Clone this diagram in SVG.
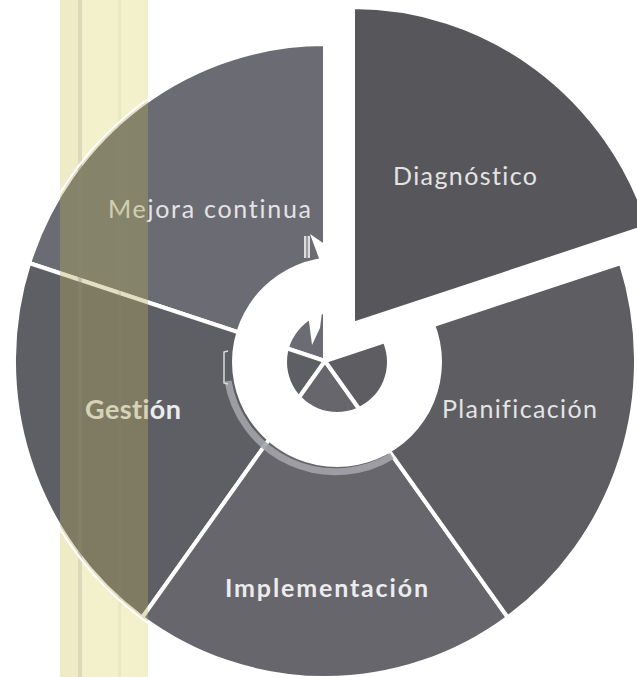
<svg xmlns="http://www.w3.org/2000/svg" width="637" height="677" viewBox="0 0 637 677">
  <defs>
    <style>
      .seg { stroke: #ffffff; stroke-width: 4; stroke-linejoin: miter; }
      .lbl { font-family: Lato, "Open Sans", "Liberation Sans", sans-serif; fill: #e4e4e4; font-variant-ligatures: none; }
      .bold { font-weight: bold; fill: #ececec; }
    </style>
    <clipPath id="pieClip">
      <ellipse cx="325" cy="361" rx="311" ry="317"/>
    </clipPath>
  </defs>

  <rect x="0" y="0" width="637" height="677" fill="#ffffff"/>

  <!-- pale yellow strip (background part) -->
  <g id="strip-bg">
    <rect x="60" y="0" width="88" height="677" fill="#f3f0cc"/>
    <rect x="60" y="0" width="18" height="677" fill="#eeebc6"/>
    <rect x="78" y="0" width="4" height="677" fill="#dcd9bb"/>
    <rect x="118" y="0" width="3" height="677" fill="#ebe8c2"/>
  </g>

  <!-- pie segments -->
  <g id="mejora">
    <path class="seg" fill="#6b6b73" d="M325,361 L29.2,263 A311,317 0 0 1 325,44 Z"/>
  </g>
  <g id="gestion">
    <path class="seg" fill="#5e5e65" d="M325,361 L142.2,617.5 A311,317 0 0 1 29.2,263 Z"/>
  </g>
  <g id="implementacion">
    <path class="seg" fill="#66666c" d="M325,361 L507.8,617.5 A311,317 0 0 1 142.2,617.5 Z"/>
  </g>
  <g id="planificacion">
    <path class="seg" fill="#5d5d62" d="M325,361 L620.8,263 A311,317 0 0 1 507.8,617.5 Z"/>
  </g>

  <!-- central circular arrow -->
  <g id="ciclo">
    <path d="M228,381 A109,109 0 0 0 392,456" fill="none" stroke="#a3a3aa" stroke-width="7" opacity="0.9"/>
    <path d="M228,351 L224,352 L224,383 L228,384" fill="none" stroke="#dcdcdc" stroke-width="1.5"/>
    <path fill="#ffffff" fill-rule="evenodd" d="M232,362 a105,105 0 1,0 210,0 a105,105 0 1,0 -210,0 Z M287,362 a50,50 0 1,0 100,0 a50,50 0 1,0 -100,0 Z"/>
    <polygon fill="#ffffff" points="310,234 320,261 326,261 326,245"/>
    <rect x="304" y="236" width="6" height="22" fill="#9a9aa0"/>
    <line x1="305" y1="236" x2="305" y2="258" stroke="#f2f2f2" stroke-width="1.5"/>
    <line x1="309" y1="236" x2="309" y2="258" stroke="#f2f2f2" stroke-width="1.5"/>
    <polygon fill="#ffffff" points="308,314 322,312 320,328 312,345"/>
  </g>

  <!-- exploded segment -->
  <g id="diagnostico">
    <path class="seg" fill="#57575b" d="M353,324 L353,7 A311,317 0 0 1 648.8,226 Z"/>
  </g>

  <!-- labels -->
  <g id="labels">
    <text class="lbl" x="393" y="185" font-size="25" textLength="144">Diagnóstico</text>
    <text class="lbl" x="108" y="218" font-size="25" textLength="203">Mejora continua</text>
    <text class="lbl bold" x="85" y="419" font-size="27" textLength="96">Gestión</text>
    <text class="lbl" x="442" y="418" font-size="25" textLength="155">Planificación</text>
    <text class="lbl bold" x="225" y="597" font-size="25" textLength="203">Implementación</text>
  </g>

  <!-- strip tint over the pie -->
  <g id="strip-over" clip-path="url(#pieClip)">
    <rect x="60" y="0" width="88" height="677" fill="#b3ab5e" opacity="0.38"/>
    <rect x="78" y="0" width="4" height="677" fill="#8a8a7a" opacity="0.35"/>
    <rect x="118" y="0" width="3" height="677" fill="#8a8a7a" opacity="0.15"/>
  </g>
</svg>
